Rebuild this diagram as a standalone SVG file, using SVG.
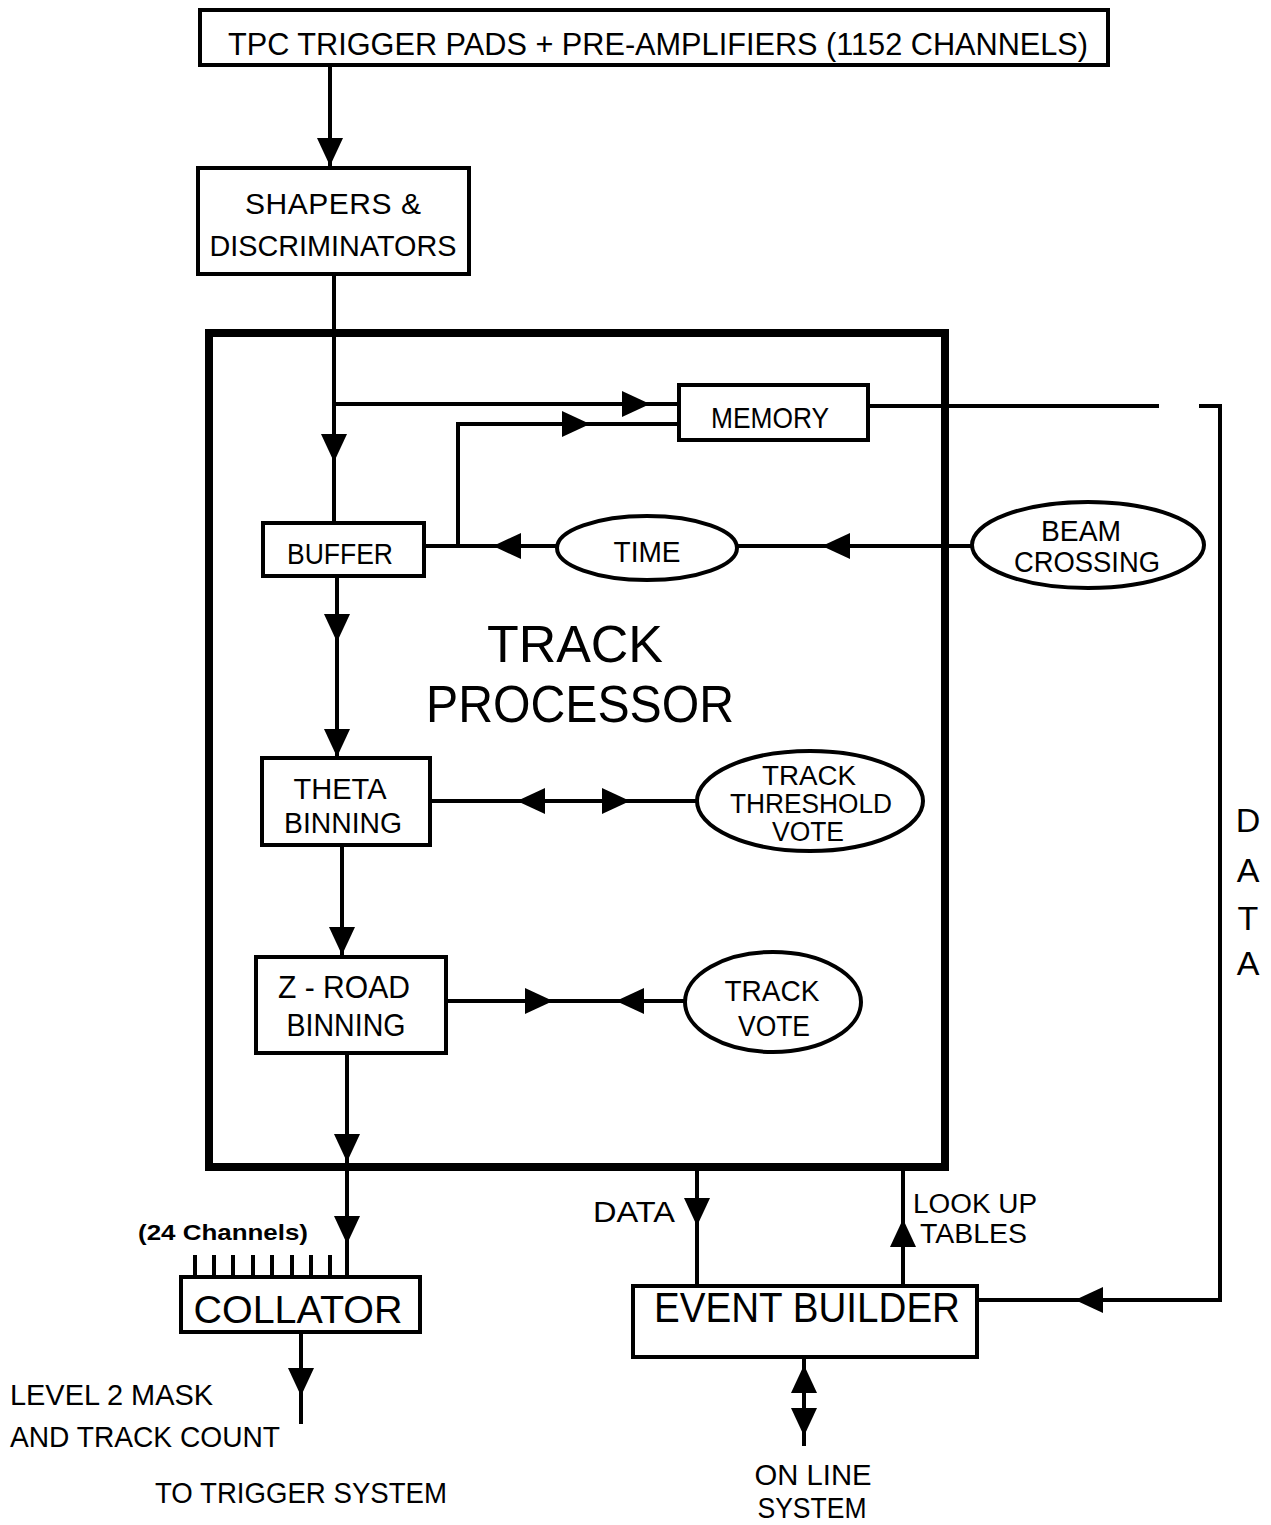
<svg xmlns="http://www.w3.org/2000/svg" xmlns:xlink="http://www.w3.org/1999/xlink" width="1271" height="1525" viewBox="0 0 1271 1525">
<style>
.bx{fill:#fff;stroke:#000;stroke-width:4}
.big{fill:none;stroke:#000;stroke-width:8}
.ln{fill:none;stroke:#000;stroke-width:4;stroke-linecap:square}
.t{font-family:"Liberation Sans",Arial,sans-serif;fill:#000;text-anchor:middle;font-size:30px}
.tl{font-family:"Liberation Sans",Arial,sans-serif;fill:#000;font-size:30px}
.sm{font-size:27px}
</style>
<defs>
<path id="ah" d="M0,0 L-28,-13 L-28,13 Z" fill="#000"/>
</defs>
<rect width="1271" height="1525" fill="#fff"/>

<g id="connectors">
<line class="ln" x1="330" y1="65" x2="330" y2="166"/>
<use xlink:href="#ah" transform="translate(330,166) rotate(90)"/>
<line class="ln" x1="334" y1="275" x2="334" y2="522"/>
<use xlink:href="#ah" transform="translate(334,462) rotate(90)"/>
<line class="ln" x1="334" y1="404" x2="679" y2="404"/>
<use xlink:href="#ah" transform="translate(650,404)"/>
<polyline class="ln" points="458,546 458,424 679,424"/>
<use xlink:href="#ah" transform="translate(590,424)"/>
<line class="ln" x1="424" y1="546" x2="557" y2="546"/>
<use xlink:href="#ah" transform="translate(493,546) rotate(180)"/>
<line class="ln" x1="737" y1="546" x2="972" y2="546"/>
<use xlink:href="#ah" transform="translate(822,546) rotate(180)"/>
<line class="ln" x1="337" y1="576" x2="337" y2="757"/>
<use xlink:href="#ah" transform="translate(337,642) rotate(90)"/>
<use xlink:href="#ah" transform="translate(337,757) rotate(90)"/>
<line class="ln" x1="431" y1="801" x2="697" y2="801"/>
<use xlink:href="#ah" transform="translate(517,801) rotate(180)"/>
<use xlink:href="#ah" transform="translate(630,801)"/>
<line class="ln" x1="342" y1="845" x2="342" y2="955"/>
<use xlink:href="#ah" transform="translate(342,955) rotate(90)"/>
<line class="ln" x1="446" y1="1001" x2="686" y2="1001"/>
<use xlink:href="#ah" transform="translate(553,1001)"/>
<use xlink:href="#ah" transform="translate(616,1001) rotate(180)"/>
<line class="ln" x1="347" y1="1053" x2="347" y2="1277"/>
<use xlink:href="#ah" transform="translate(347,1162) rotate(90)"/>
<use xlink:href="#ah" transform="translate(347,1244) rotate(90)"/>
<path class="ln" d="M195,1257V1277M214,1257V1277M233,1257V1277M253,1257V1277M272,1257V1277M292,1257V1277M311,1257V1277M330,1257V1277"/>
<line class="ln" x1="301" y1="1332" x2="301" y2="1422"/>
<use xlink:href="#ah" transform="translate(301,1396) rotate(90)"/>
<line class="ln" x1="697" y1="1170" x2="697" y2="1286"/>
<use xlink:href="#ah" transform="translate(697,1226) rotate(90)"/>
<line class="ln" x1="903" y1="1170" x2="903" y2="1286"/>
<use xlink:href="#ah" transform="translate(903,1219) rotate(-90)"/>
<line class="ln" x1="804" y1="1357" x2="804" y2="1444"/>
<use xlink:href="#ah" transform="translate(804,1365) rotate(-90)"/>
<use xlink:href="#ah" transform="translate(804,1436) rotate(90)"/>
<line class="ln" x1="868" y1="406" x2="1157" y2="406"/>
<polyline class="ln" points="1201,406 1220,406 1220,1300 977,1300"/>
<use xlink:href="#ah" transform="translate(1075,1300) rotate(180)"/>
</g>

<g id="tpc">
<rect class="bx" x="200" y="10" width="908" height="55"/>
<text class="t" x="658" y="55" style="font-size:32px" textLength="860" lengthAdjust="spacingAndGlyphs">TPC TRIGGER PADS + PRE-AMPLIFIERS (1152 CHANNELS)</text>
</g>
<g id="shapers">
<rect class="bx" x="198" y="168" width="271" height="106"/>
<text class="t" x="333" y="214" textLength="176" lengthAdjust="spacing">SHAPERS  &amp;</text>
<text class="t" x="333" y="256" textLength="247" lengthAdjust="spacingAndGlyphs">DISCRIMINATORS</text>
</g>
<g id="track-processor">
<rect class="big" x="209" y="333" width="736" height="834"/>
<text class="t" x="575" y="662" style="font-size:52px" textLength="176" lengthAdjust="spacingAndGlyphs">TRACK</text>
<text class="t" x="580" y="722" style="font-size:52px" textLength="308" lengthAdjust="spacingAndGlyphs">PROCESSOR</text>
</g>
<g id="memory">
<rect class="bx" x="679" y="385" width="189" height="55"/>
<text class="t" x="770" y="428" textLength="118" lengthAdjust="spacingAndGlyphs">MEMORY</text>
</g>
<g id="buffer">
<rect class="bx" x="263" y="523" width="161" height="53"/>
<text class="t" x="340" y="564" textLength="106" lengthAdjust="spacingAndGlyphs">BUFFER</text>
</g>
<g id="time">
<ellipse class="bx" cx="647" cy="548" rx="90" ry="32"/>
<text class="t" x="647" y="562" textLength="67" lengthAdjust="spacingAndGlyphs">TIME</text>
</g>
<g id="beam-crossing">
<ellipse class="bx" cx="1088" cy="545" rx="116" ry="43"/>
<text class="t" x="1081" y="541" textLength="80" lengthAdjust="spacingAndGlyphs">BEAM</text>
<text class="t" x="1087" y="572" textLength="146" lengthAdjust="spacingAndGlyphs">CROSSING</text>
</g>
<g id="theta-binning">
<rect class="bx" x="262" y="758" width="168" height="87"/>
<text class="t" x="340" y="799" textLength="93" lengthAdjust="spacingAndGlyphs">THETA</text>
<text class="t" x="343" y="833" textLength="118" lengthAdjust="spacingAndGlyphs">BINNING</text>
</g>
<g id="track-threshold-vote">
<ellipse class="bx" cx="810" cy="801" rx="113" ry="50"/>
<text class="t sm" x="809" y="785" textLength="94" lengthAdjust="spacingAndGlyphs">TRACK</text>
<text class="t sm" x="811" y="813" textLength="162" lengthAdjust="spacingAndGlyphs">THRESHOLD</text>
<text class="t sm" x="808" y="841" textLength="72" lengthAdjust="spacingAndGlyphs">VOTE</text>
</g>
<g id="z-road-binning">
<rect class="bx" x="256" y="957" width="190" height="96"/>
<text class="t" x="344" y="998" style="font-size:32px" textLength="132" lengthAdjust="spacingAndGlyphs">Z - ROAD</text>
<text class="t" x="346" y="1036" style="font-size:32px" textLength="119" lengthAdjust="spacingAndGlyphs">BINNING</text>
</g>
<g id="track-vote">
<ellipse class="bx" cx="773" cy="1002" rx="88" ry="50"/>
<text class="t" x="772" y="1001" textLength="95" lengthAdjust="spacingAndGlyphs">TRACK</text>
<text class="t" x="774" y="1036" textLength="72" lengthAdjust="spacingAndGlyphs">VOTE</text>
</g>
<g id="collator">
<text class="tl" x="138" y="1240" style="font-size:22px;font-weight:bold" textLength="170" lengthAdjust="spacingAndGlyphs">(24 Channels)</text>
<rect class="bx" x="181" y="1277" width="239" height="55"/>
<text class="t" x="298" y="1323" style="font-size:38px" textLength="209" lengthAdjust="spacingAndGlyphs">COLLATOR</text>
</g>
<g id="level2-output">
<text class="tl" x="10" y="1405" textLength="203" lengthAdjust="spacingAndGlyphs">LEVEL 2 MASK</text>
<text class="tl" x="10" y="1447" textLength="270" lengthAdjust="spacingAndGlyphs">AND TRACK COUNT</text>
<text class="tl" x="155" y="1503" textLength="292" lengthAdjust="spacingAndGlyphs">TO TRIGGER SYSTEM</text>
</g>
<g id="event-builder">
<rect class="bx" x="633" y="1286" width="344" height="71"/>
<text class="t" x="807" y="1322" style="font-size:43px" textLength="306" lengthAdjust="spacingAndGlyphs">EVENT BUILDER</text>
<text class="tl" x="593" y="1222" textLength="82" lengthAdjust="spacingAndGlyphs">DATA</text>
<text class="tl sm" x="913" y="1213" textLength="124" lengthAdjust="spacingAndGlyphs">LOOK UP</text>
<text class="tl sm" x="920" y="1243" textLength="107" lengthAdjust="spacingAndGlyphs">TABLES</text>
</g>
<g id="online-system">
<text class="t" x="813" y="1485" style="font-size:30px" textLength="117" lengthAdjust="spacingAndGlyphs">ON LINE</text>
<text class="t" x="812" y="1518" style="font-size:30px" textLength="109" lengthAdjust="spacingAndGlyphs">SYSTEM</text>
</g>
<g id="data-label">
<text class="t" x="1248" y="832" style="font-size:34px">D</text>
<text class="t" x="1248" y="882" style="font-size:34px">A</text>
<text class="t" x="1248" y="930" style="font-size:34px">T</text>
<text class="t" x="1248" y="975" style="font-size:34px">A</text>
</g>
</svg>
